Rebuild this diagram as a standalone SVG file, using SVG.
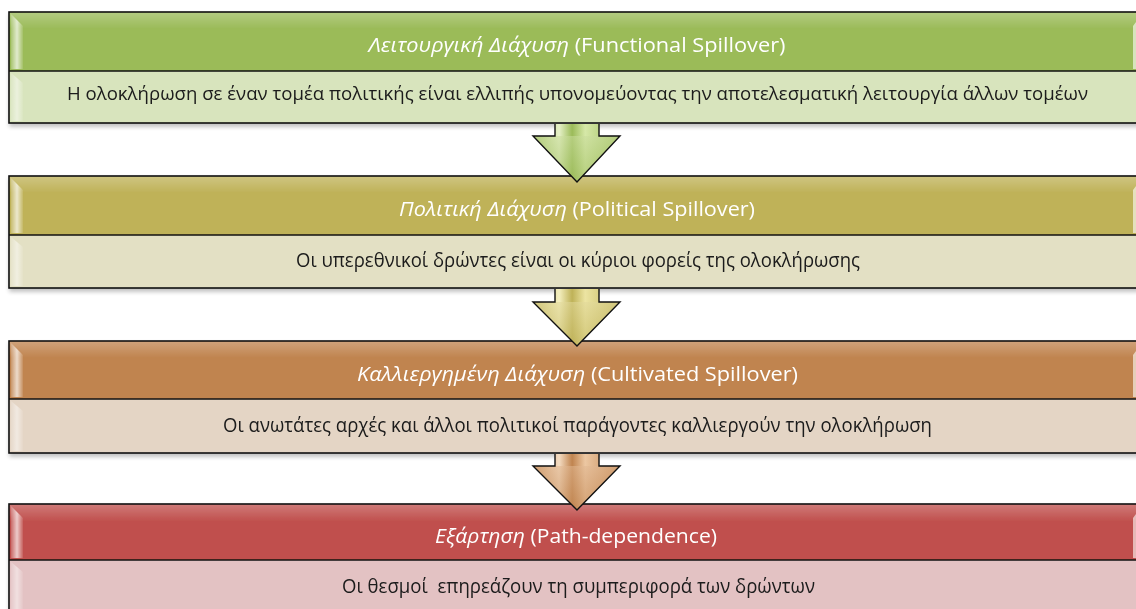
<svg xmlns="http://www.w3.org/2000/svg" width="1136" height="609" viewBox="0 0 1136 609">
<style>
.t{font-family:"Open Sans","Noto Sans","Liberation Sans",sans-serif;font-size:20px;text-anchor:middle}
.hd{fill:#ffffff}
.bd{fill:#1a1a1a}
.it{font-style:italic}
.frame{fill:none;stroke:#111;stroke-width:1.6}
.div{stroke:#111;stroke-width:1.6}
.arr{stroke:#111;stroke-width:1.4;stroke-linejoin:miter}
</style>
<defs>
<filter id="sh" x="-5%" y="-20%" width="110%" height="150%">
<feGaussianBlur in="SourceAlpha" stdDeviation="2"/>
<feOffset dx="1" dy="3"/>
<feComponentTransfer><feFuncA type="linear" slope="0.25"/></feComponentTransfer>
<feMerge><feMergeNode/><feMergeNode in="SourceGraphic"/></feMerge>
</filter>
<linearGradient id="bevL" x1="0" y1="0" x2="1" y2="0">
<stop offset="0" stop-color="#fff" stop-opacity="0.15"/>
<stop offset="0.5" stop-color="#fff" stop-opacity="0.7"/>
<stop offset="1" stop-color="#fff" stop-opacity="0.1"/>
</linearGradient>
<linearGradient id="topGl" x1="0" y1="0" x2="0" y2="1">
<stop offset="0" stop-color="#fff" stop-opacity="0.25"/>
<stop offset="0.15" stop-color="#fff" stop-opacity="0"/>
<stop offset="1" stop-color="#fff" stop-opacity="0"/>
</linearGradient>
<linearGradient id="aG" x1="0" y1="0" x2="1" y2="0">
<stop offset="0" stop-color="#9bbb59"/><stop offset="0.3" stop-color="#e6f1c8"/><stop offset="0.45" stop-color="#9bbb59"/><stop offset="0.6" stop-color="#d6e8a8"/><stop offset="1" stop-color="#9bbb59"/>
</linearGradient>
<linearGradient id="aO" x1="0" y1="0" x2="1" y2="0">
<stop offset="0" stop-color="#bfb258"/><stop offset="0.3" stop-color="#f4efbf"/><stop offset="0.45" stop-color="#bfb258"/><stop offset="0.6" stop-color="#ece4a2"/><stop offset="1" stop-color="#bfb258"/>
</linearGradient>
<linearGradient id="aB" x1="0" y1="0" x2="1" y2="0">
<stop offset="0" stop-color="#c0844f"/><stop offset="0.3" stop-color="#f4dcc2"/><stop offset="0.45" stop-color="#c0844f"/><stop offset="0.6" stop-color="#ecc7a2"/><stop offset="1" stop-color="#c0844f"/>
</linearGradient>
<linearGradient id="hG" x1="0" y1="0" x2="0" y2="1">
<stop offset="0" stop-color="#c9dc9c"/><stop offset="1" stop-color="#9bbb59"/>
</linearGradient>
<linearGradient id="hO" x1="0" y1="0" x2="0" y2="1">
<stop offset="0" stop-color="#e1d89a"/><stop offset="1" stop-color="#bfb258"/>
</linearGradient>
<linearGradient id="hB" x1="0" y1="0" x2="0" y2="1">
<stop offset="0" stop-color="#e0b791"/><stop offset="1" stop-color="#c0844f"/>
</linearGradient>
</defs>

<g id="node1" filter="url(#sh)">
<rect x="9" y="12" width="1140" height="59" fill="#9bbb59"/>
<rect x="9" y="71" width="1140" height="52" fill="#d8e4bd"/>
<rect x="9" y="12" width="1140" height="111" fill="url(#topGl)"/>
<path d="M11,14 L23,26 V69 L11,69 Z" fill="url(#bevL)"/>
<path d="M11,73 L23,83 V121 L11,121 Z" fill="url(#bevL)" opacity="0.7"/>
<path d="M1133,26 L1136,22 V69 H1133 Z" fill="#fff" opacity="0.6"/>
<rect class="frame" x="9" y="12" width="1140" height="111"/>
<line class="div" x1="9" y1="71" x2="1136" y2="71"/>
<text class="t hd" x="577" y="52" textLength="417" lengthAdjust="spacingAndGlyphs"><tspan class="it">Λειτουργική Διάχυση</tspan> (Functional Spillover)</text>
<text class="t bd" x="577.5" y="100" style="font-size:18.5px" textLength="1021" lengthAdjust="spacingAndGlyphs">Η ολοκλήρωση σε έναν τομέα πολιτικής είναι ελλιπής υπονομεύοντας την αποτελεσματική λειτουργία άλλων τομέων</text>
</g>

<g id="node2" filter="url(#sh)">
<rect x="9" y="176" width="1140" height="59" fill="#bfb258"/>
<rect x="9" y="235" width="1140" height="53" fill="#e3e0c4"/>
<rect x="9" y="176" width="1140" height="112" fill="url(#topGl)"/>
<path d="M11,178 L23,190 V233 L11,233 Z" fill="url(#bevL)"/>
<path d="M11,237 L23,247 V286 L11,286 Z" fill="url(#bevL)" opacity="0.7"/>
<path d="M1133,190 L1136,186 V233 H1133 Z" fill="#fff" opacity="0.6"/>
<rect class="frame" x="9" y="176" width="1140" height="112"/>
<line class="div" x1="9" y1="235" x2="1136" y2="235"/>
<text class="t hd" x="577" y="216" textLength="356" lengthAdjust="spacingAndGlyphs"><tspan class="it">Πολιτική Διάχυση</tspan> (Political Spillover)</text>
<text class="t bd" x="578" y="267" textLength="564" lengthAdjust="spacingAndGlyphs">Οι υπερεθνικοί δρώντες είναι οι κύριοι φορείς της ολοκλήρωσης</text>
</g>

<g id="node3" filter="url(#sh)">
<rect x="9" y="341" width="1140" height="58" fill="#c0844f"/>
<rect x="9" y="399" width="1140" height="54" fill="#e4d5c5"/>
<rect x="9" y="341" width="1140" height="112" fill="url(#topGl)"/>
<path d="M11,343 L23,355 V397 L11,397 Z" fill="url(#bevL)"/>
<path d="M11,401 L23,411 V451 L11,451 Z" fill="url(#bevL)" opacity="0.7"/>
<path d="M1133,355 L1136,351 V397 H1133 Z" fill="#fff" opacity="0.6"/>
<rect class="frame" x="9" y="341" width="1140" height="112"/>
<line class="div" x1="9" y1="399" x2="1136" y2="399"/>
<text class="t hd" x="577.5" y="381" textLength="441" lengthAdjust="spacingAndGlyphs"><tspan class="it">Καλλιεργημένη Διάχυση</tspan> (Cultivated Spillover)</text>
<text class="t bd" x="577.5" y="432" textLength="709" lengthAdjust="spacingAndGlyphs">Οι ανωτάτες αρχές και άλλοι πολιτικοί παράγοντες καλλιεργούν την ολοκλήρωση</text>
</g>

<g id="node4" filter="url(#sh)">
<rect x="9" y="504" width="1140" height="56" fill="#c0504d"/>
<rect x="9" y="560" width="1140" height="60" fill="#e3c2c3"/>
<rect x="9" y="504" width="1140" height="116" fill="url(#topGl)"/>
<path d="M11,506 L23,518 V558 L11,558 Z" fill="url(#bevL)"/>
<path d="M11,562 L23,572 V609 L11,609 Z" fill="url(#bevL)" opacity="0.7"/>
<path d="M1133,518 L1136,514 V558 H1133 Z" fill="#fff" opacity="0.6"/>
<rect class="frame" x="9" y="504" width="1140" height="116"/>
<line class="div" x1="9" y1="560" x2="1136" y2="560"/>
<text class="t hd" x="576" y="543" textLength="282" lengthAdjust="spacingAndGlyphs"><tspan class="it">Εξάρτηση</tspan> (Path-dependence)</text>
<text class="t bd" x="578.5" y="593" textLength="473" lengthAdjust="spacingAndGlyphs" xml:space="preserve">Οι θεσμοί  επηρεάζουν τη συμπεριφορά των δρώντων</text>
</g>

<g id="connectors">
<g id="arrow1">
<path fill="url(#aG)" d="M555,124 H599 V136 H620 L577,182 L533,136 H555 Z"/>
<path d="M533,136 H620 L577,182 Z" fill="url(#hG)" opacity="0.55"/>
<path class="arr" fill="none" d="M555,124 V136 H533 L577,182 L620,136 H599 V124"/>
</g>
<g id="arrow2">
<path fill="url(#aO)" d="M555,289 H599 V302 H620 L577,346 L533,302 H555 Z"/>
<path d="M533,302 H620 L577,346 Z" fill="url(#hO)" opacity="0.55"/>
<path class="arr" fill="none" d="M555,289 V302 H533 L577,346 L620,302 H599 V289"/>
</g>
<g id="arrow3">
<path fill="url(#aB)" d="M555,454 H599 V466 H620 L577,510 L533,466 H555 Z"/>
<path d="M533,466 H620 L577,510 Z" fill="url(#hB)" opacity="0.55"/>
<path class="arr" fill="none" d="M555,454 V466 H533 L577,510 L620,466 H599 V454"/>
</g>
</g>
</svg>
